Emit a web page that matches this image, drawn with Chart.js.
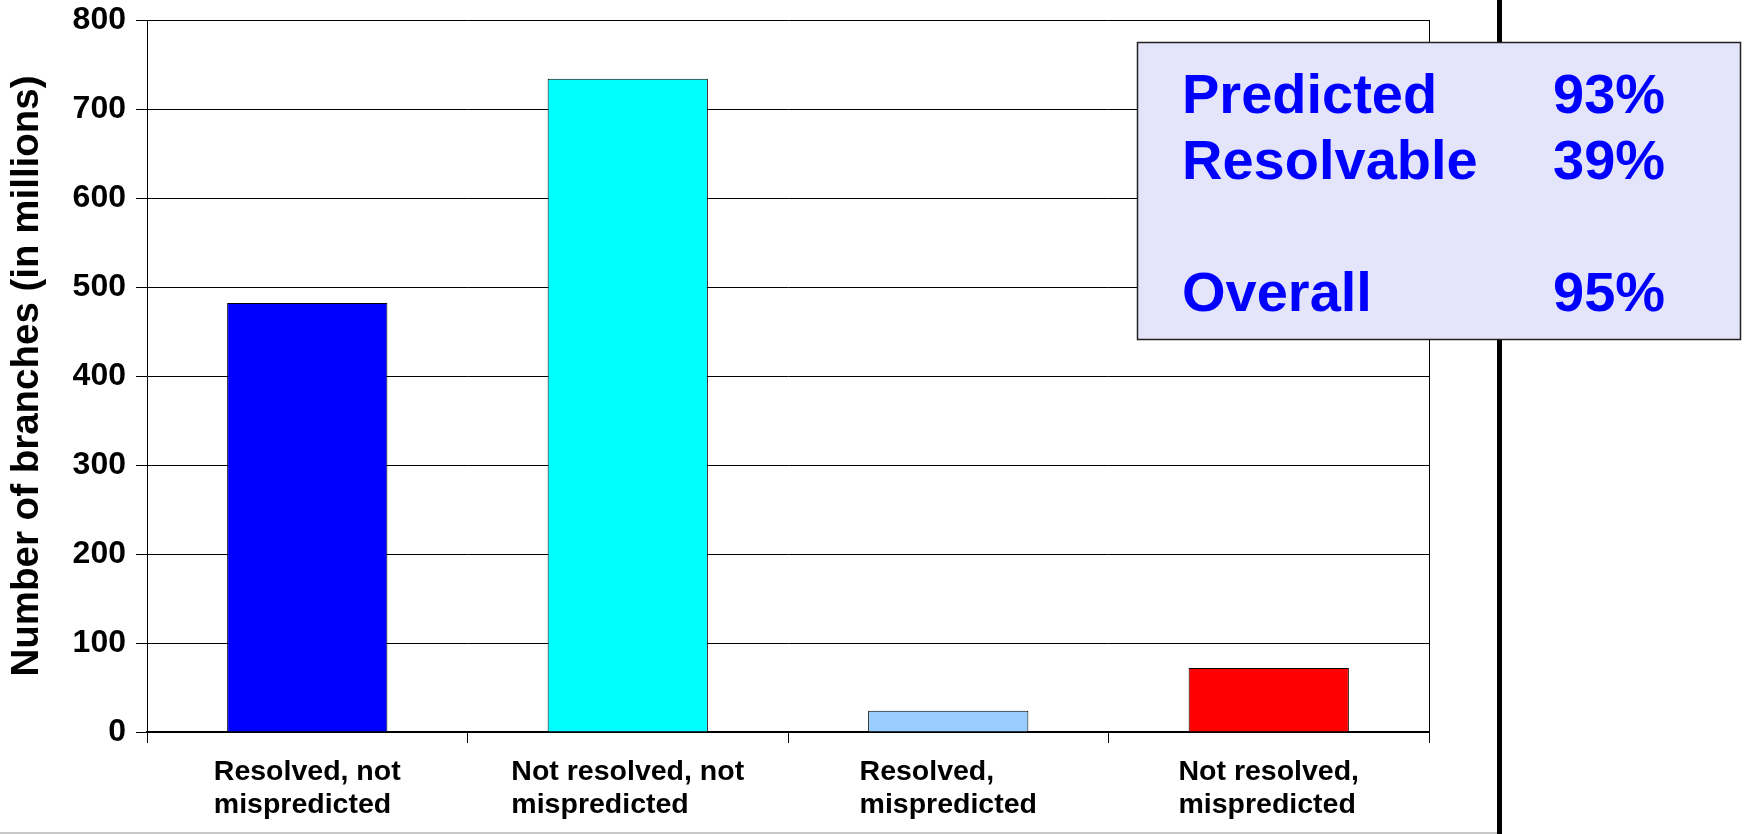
<!DOCTYPE html>
<html>
<head>
<meta charset="utf-8">
<title>Branch resolution</title>
<script src="https://cdn.jsdelivr.net/npm/chart.js@4"></script>
<style>
  html, body { margin: 0; padding: 0; background: #ffffff; }
  #wrap { position: relative; width: 1744px; height: 834px; }
</style>
</head>
<body>
<div id="wrap"><canvas id="chart"></canvas></div>
<script>
// Branch categories (each label is split into its two printed lines)
const categories = [
  ['Resolved, not', 'mispredicted'],
  ['Not resolved, not', 'mispredicted'],
  ['Resolved,', 'mispredicted'],
  ['Not resolved,', 'mispredicted']
];
// Number of branches, in millions
const branchCounts = [482, 734, 24, 72];
const barColors = ['#0000FF', '#00FFFF', '#99CCFF', '#FF0000'];
const yTicks = [0, 100, 200, 300, 400, 500, 600, 700, 800];
const yTitle = 'Number of branches (in millions)';

// Summary box contents
const summaryLabels = ['Predicted', 'Resolvable', 'Overall'];
const summaryValues = ['93%', '39%', '95%'];
const summaryRows = [0, 1, 3]; // row slots; slot 2 is left blank

const FONT = "'Liberation Sans', Arial, Helvetica, sans-serif";

// Draws two-line category labels as left-aligned blocks centred under each bar
const categoryLabels = {
  id: 'categoryLabels',
  afterDraw(chart) {
    const ctx = chart.ctx;
    const xs = chart.scales.x;
    const base = chart.chartArea.bottom;
    ctx.save();
    ctx.font = 'bold 28.5px ' + FONT;
    ctx.fillStyle = '#000000';
    ctx.textAlign = 'left';
    ctx.textBaseline = 'alphabetic';
    categories.forEach((lines, i) => {
      const cx = xs.getPixelForValue(i);
      const w = Math.max(...lines.map(l => ctx.measureText(l).width));
      const left = cx - w / 2;
      lines.forEach((l, j) => ctx.fillText(l, left, base + 48 + j * 33));
    });
    ctx.restore();
  }
};

// Right border of the plot frame
const plotFrame = {
  id: 'plotFrame',
  afterDatasetsDraw(chart) {
    const { ctx, chartArea: a } = chart;
    ctx.save();
    ctx.strokeStyle = '#000000';
    ctx.lineWidth = 1;
    ctx.beginPath();
    const x = Math.round(a.right) + 0.5;
    ctx.moveTo(x, a.top);
    ctx.lineTo(x, a.bottom);
    ctx.stroke();
    ctx.restore();
  }
};

// Slide furniture: divider rule, bottom rule and summary box
const slideDecor = {
  id: 'slideDecor',
  afterDraw(chart) {
    const ctx = chart.ctx;
    ctx.save();
    // thick vertical divider
    ctx.fillStyle = '#000000';
    ctx.fillRect(1497, 0, 5, 834);
    // light bottom rule
    ctx.fillStyle = '#c8c8c8';
    ctx.fillRect(0, 832, 1497, 2);

    // summary box
    const bx = 1137.5, by = 42.5, bw = 603, bh = 297;
    ctx.fillStyle = '#E4E4FA';
    ctx.fillRect(bx, by, bw, bh);
    ctx.strokeStyle = '#222222';
    ctx.lineWidth = 1.5;
    ctx.strokeRect(bx, by, bw, bh);

    ctx.font = 'bold 56px ' + FONT;
    ctx.fillStyle = '#0000FF';
    ctx.textAlign = 'left';
    ctx.textBaseline = 'alphabetic';
    summaryLabels.forEach((label, i) => {
      const y = 113 + summaryRows[i] * 66;
      ctx.fillText(label, 1182, y);
      ctx.fillText(summaryValues[i], 1553, y);
    });
    ctx.restore();
  }
};

new Chart(document.getElementById('chart'), {
  type: 'bar',
  data: {
    labels: categories,
    datasets: [{
      data: branchCounts,
      backgroundColor: barColors,
      borderColor: '#000000',
      borderWidth: 1,
      barPercentage: 0.5,
      categoryPercentage: 1.0
    }]
  },
  options: {
    responsive: true,
    maintainAspectRatio: false,
    animation: false,
    events: [],
    layout: { padding: { top: 20, right: 315, left: 0, bottom: 0 } },
    plugins: {
      legend: { display: false },
      tooltip: { enabled: false },
      title: { display: false }
    },
    scales: {
      x: {
        offset: true,
        afterFit(scale) {
          scale.height = 102;
          scale.paddingLeft = 0;
          scale.paddingRight = 0;
        },
        grid: {
          display: true,
          drawOnChartArea: false,
          drawTicks: true,
          tickLength: 11,
          color: '#000000',
          lineWidth: 1,
          offset: true
        },
        border: { display: true, color: '#000000', width: 2 },
        ticks: { display: false }
      },
      y: {
        min: 0,
        max: 800,
        afterFit(scale) {
          scale.width = 147;
          scale.paddingTop = 0;
          scale.paddingBottom = 0;
        },
        afterBuildTicks(scale) { scale.ticks = yTicks.map(v => ({ value: v })); },
        grid: {
          color: '#000000',
          lineWidth: 1,
          drawTicks: true,
          tickLength: 11
        },
        border: { display: true, color: '#000000', width: 1 },
        ticks: {
          color: '#000000',
          padding: 10,
          font: { family: FONT, size: 32, weight: 'bold' }
        },
        title: {
          display: true,
          text: yTitle,
          color: '#000000',
          padding: { top: 8, bottom: 0 },
          font: { family: FONT, size: 38.5, weight: 'bold', lineHeight: 1 }
        }
      }
    }
  },
  plugins: [plotFrame, categoryLabels, slideDecor]
});
</script>
</body>
</html>
